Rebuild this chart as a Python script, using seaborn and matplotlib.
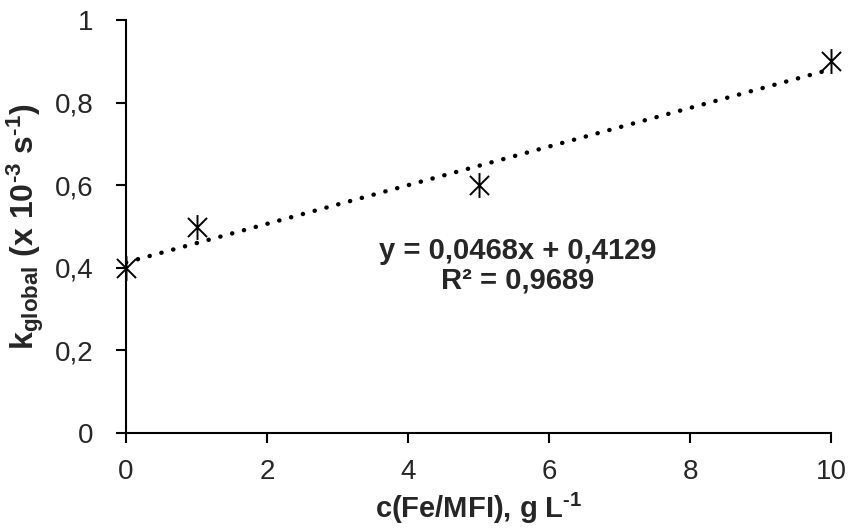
import numpy as np
import pandas as pd
import matplotlib.pyplot as plt
from matplotlib.path import Path
import seaborn as sns

# datos
conc = [0, 1, 5, 10]
k_global = [0.4, 0.5, 0.6, 0.9]
xticks = [0, 2, 4, 6, 8, 10]
yticks = [0, 0.2, 0.4, 0.6, 0.8, 1]
ytick_labels = ['0', '0,2', '0,4', '0,6', '0,8', '1']
eq_text = 'y = 0,0468x + 0,4129\nR² = 0,9689'

sns.set_style('ticks')
plt.rcParams['font.family'] = ['Liberation Sans', 'DejaVu Sans']
plt.rcParams['mathtext.fontset'] = 'custom'
plt.rcParams['mathtext.rm'] = 'Liberation Sans:bold'
plt.rcParams['mathtext.bf'] = 'Liberation Sans:bold'
plt.rcParams['mathtext.it'] = 'Liberation Sans:bold'

df = pd.DataFrame({'c': conc, 'k': k_global})

# marcador tipo Excel (X + linea vertical)
star = Path([(-1, -1), (1, 1), (-1, 1), (1, -1), (0, -1.3), (0, 1.3)],
            [Path.MOVETO, Path.LINETO, Path.MOVETO, Path.LINETO, Path.MOVETO, Path.LINETO])

fig = plt.figure(figsize=(8.51, 5.30), dpi=100)
ax = fig.add_axes([126 / 851, 97 / 530, 705 / 851, 413 / 530])

sns.regplot(data=df, x='c', y='k', ax=ax, ci=None, scatter=False,
            line_kws={'color': 'black', 'lw': 3.2, 'linestyle': (0, (0.05, 2.7)),
                      'dash_capstyle': 'round', 'solid_capstyle': 'round'})
sns.scatterplot(data=df, x='c', y='k', ax=ax, marker=star, s=320,
                color='black', linewidth=1.4, edgecolor='black', zorder=5, clip_on=False)

ax.set_xlim(0, 10)
ax.set_ylim(0, 1)
ax.set_xticks(xticks)
ax.set_xticklabels([str(v) for v in xticks], fontsize=20)
ax.set_yticks(yticks)
ax.set_yticklabels(ytick_labels, fontsize=20)
ax.tick_params(axis='x', direction='out', length=7, width=1.5, pad=12, color='black')
ax.tick_params(axis='y', direction='out', length=7, width=1.5, pad=16.5, color='black')
sns.despine(ax=ax)
for s in ['left', 'bottom']:
    ax.spines[s].set_color('black')
    ax.spines[s].set_linewidth(1.5)

ax.set_xlabel(r'c(Fe/MFI), g L$^{\text{-1}}$', fontsize=21, fontweight='bold', labelpad=4)
ax.set_ylabel(r'$\mathbf{k}_{\mathbf{global}}$ (x 10$^{\text{-3}}$ s$^{\text{-1}}$)',
              fontsize=23, fontweight='bold', labelpad=6)

ax.text(5.56, 0.405, eq_text, ha='center', va='center', fontsize=21,
        fontweight='bold', linespacing=1.1)

fig.savefig('out.png', dpi=100)
